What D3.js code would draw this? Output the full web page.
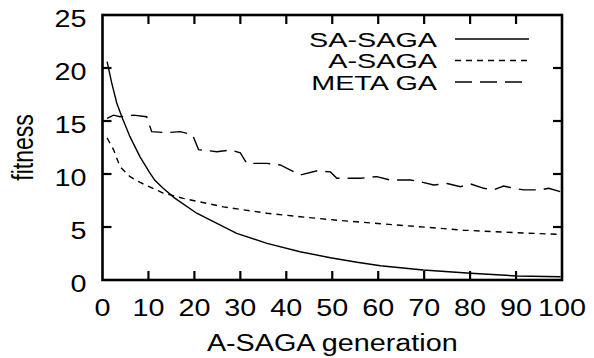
<!DOCTYPE html>
<html>
<head>
<meta charset="utf-8">
<script src="https://cdn.jsdelivr.net/npm/d3@7"></script>
<style>
  body { margin: 0; background: #fff; }
  text { font-family: "Liberation Sans", Arial, sans-serif; fill: #000; font-size: 23px; }
</style>
</head>
<body>
<svg></svg>
<script>
const width = 594;
const height = 358;

// generation values and fitness
const saSagaGen = [1, 2, 3.1, 4.2, 6, 8.2, 10.3, 11.4, 13.2, 15.8, 20.5, 24.9, 29.2, 35.8, 43, 49.6, 55.4, 60.5, 69.8, 80.1, 90.2, 99.7];
const saSagaFit = [20.6, 18.6, 16.7, 15.4, 13.5, 11.6, 10.1, 9.4, 8.65, 7.7, 6.3, 5.35, 4.4, 3.46, 2.67, 2.1, 1.67, 1.35, 0.94, 0.63, 0.38, 0.3];

const aSagaGen = [1, 2.4, 3.8, 6, 8.2, 13.2, 17.6, 26.3, 35.8, 43, 50.5, 64.1, 78.6, 90.2, 99.7];
const aSagaFit = [13.4, 12.3, 10.7, 9.75, 9.2, 8.2, 7.7, 6.9, 6.3, 5.97, 5.66, 5.19, 4.7, 4.46, 4.3];

const metaGen = [1, 2.4, 3.8, 6.7, 9.6, 10.7, 14, 16.9, 19.6, 20.9, 24.9, 27.8, 30, 31.4, 35.8, 38.7, 40.8, 43, 46.7, 49.6, 51, 56.1, 59.7, 62.6, 67, 69.2, 72.1, 75, 77.9, 80.1, 83, 85.1, 87.3, 89.5, 91.7, 95.3, 97.1, 99.7];
const metaFit = [15.25, 15.55, 15.4, 15.55, 15.4, 14.0, 13.9, 14.0, 13.7, 12.3, 12.1, 12.26, 12.0, 11.0, 11.0, 10.85, 10.4, 9.9, 10.3, 10.2, 9.6, 9.6, 9.75, 9.43, 9.43, 9.27, 8.96, 9.1, 8.8, 9.06, 8.65, 8.5, 8.87, 8.65, 8.5, 8.5, 8.65, 8.33];

const xTicks = [0, 10, 20, 30, 40, 50, 60, 70, 80, 90, 100];
const yTicks = [0, 5, 10, 15, 20, 25];

const seriesNames = ["SA-SAGA", "A-SAGA", "META GA"];
const seriesDash = [null, "6,5", "17,8"];

const margin = {left: 102.5, right: 32, top: 15, bottom: 78};
// the reference picture is stretched sideways, text included
const stretch = 1.25;

const svg = d3.select('svg')
    .attr('width', width).attr('height', height);

const x = d3.scaleLinear().domain([0, 100]).range([margin.left, width - margin.right]);
const y = d3.scaleLinear().domain([0, 25]).range([height - margin.bottom, margin.top]);

const line = d3.line()
    .x(d => x(d[0]))
    .y(d => y(d[1]));

const series = [
    d3.zip(saSagaGen, saSagaFit),
    d3.zip(aSagaGen, aSagaFit),
    d3.zip(metaGen, metaFit)
];

function label(px, py, txt, anchor, size, sx) {
    const t = svg.append("g")
        .attr("transform", `translate(${px},${py}) scale(${sx || stretch},1)`)
        .append("text")
        .attr("text-anchor", anchor)
        .text(txt);
    if (size) t.style("font-size", size + "px");
}

// curves
series.forEach((s, i) => {
    svg.append("path")
        .datum(s)
        .attr("d", line)
        .style("fill", "none")
        .style("stroke", "#000")
        .style("stroke-width", 1.4)
        .style("stroke-dasharray", seriesDash[i]);
});

// ticks pointing inward on all four sides
const tickLen = 9;
const axes = svg.append("g").style("stroke", "#000").style("stroke-width", 2.2);
xTicks.slice(1, -1).forEach(t => {
    axes.append("line").attr("x1", x(t)).attr("x2", x(t))
        .attr("y1", y(0)).attr("y2", y(0) - tickLen);
    axes.append("line").attr("x1", x(t)).attr("x2", x(t))
        .attr("y1", y(25)).attr("y2", y(25) + tickLen);
});
yTicks.slice(1, -1).forEach(t => {
    axes.append("line").attr("x1", x(0)).attr("x2", x(0) + tickLen)
        .attr("y1", y(t)).attr("y2", y(t));
    axes.append("line").attr("x1", x(100)).attr("x2", x(100) - tickLen)
        .attr("y1", y(t)).attr("y2", y(t));
});

// frame
axes.append("rect")
    .attr("x", x(0)).attr("y", y(25))
    .attr("width", x(100) - x(0)).attr("height", y(0) - y(25))
    .style("fill", "none")
    .style("stroke-width", 2.6);

// tick labels
xTicks.forEach(t => label(x(t), y(0) + 36, t, "middle"));
yTicks.forEach(t => label(x(0) - 16, y(t) + 12, t, "end"));

// axis titles
label((x(0) + x(100)) / 2, 351, "A-SAGA generation", "middle");

svg.append("g")
    .attr("transform", `translate(33,${(y(0) + y(25)) / 2}) scale(${stretch},1) rotate(-90)`)
    .append("text")
    .attr("text-anchor", "middle")
    .text("fitness");

// legend
seriesNames.forEach((name, i) => {
    const ly = 39 + i * 21.5;
    label(437, ly + 7.5, name, "end", 20, 1.44);
    svg.append("line")
        .attr("x1", 455).attr("x2", 529)
        .attr("y1", ly).attr("y2", ly)
        .style("stroke", "#000")
        .style("stroke-width", 1.4)
        .style("stroke-dasharray", seriesDash[i]);
});
</script>
</body>
</html>
